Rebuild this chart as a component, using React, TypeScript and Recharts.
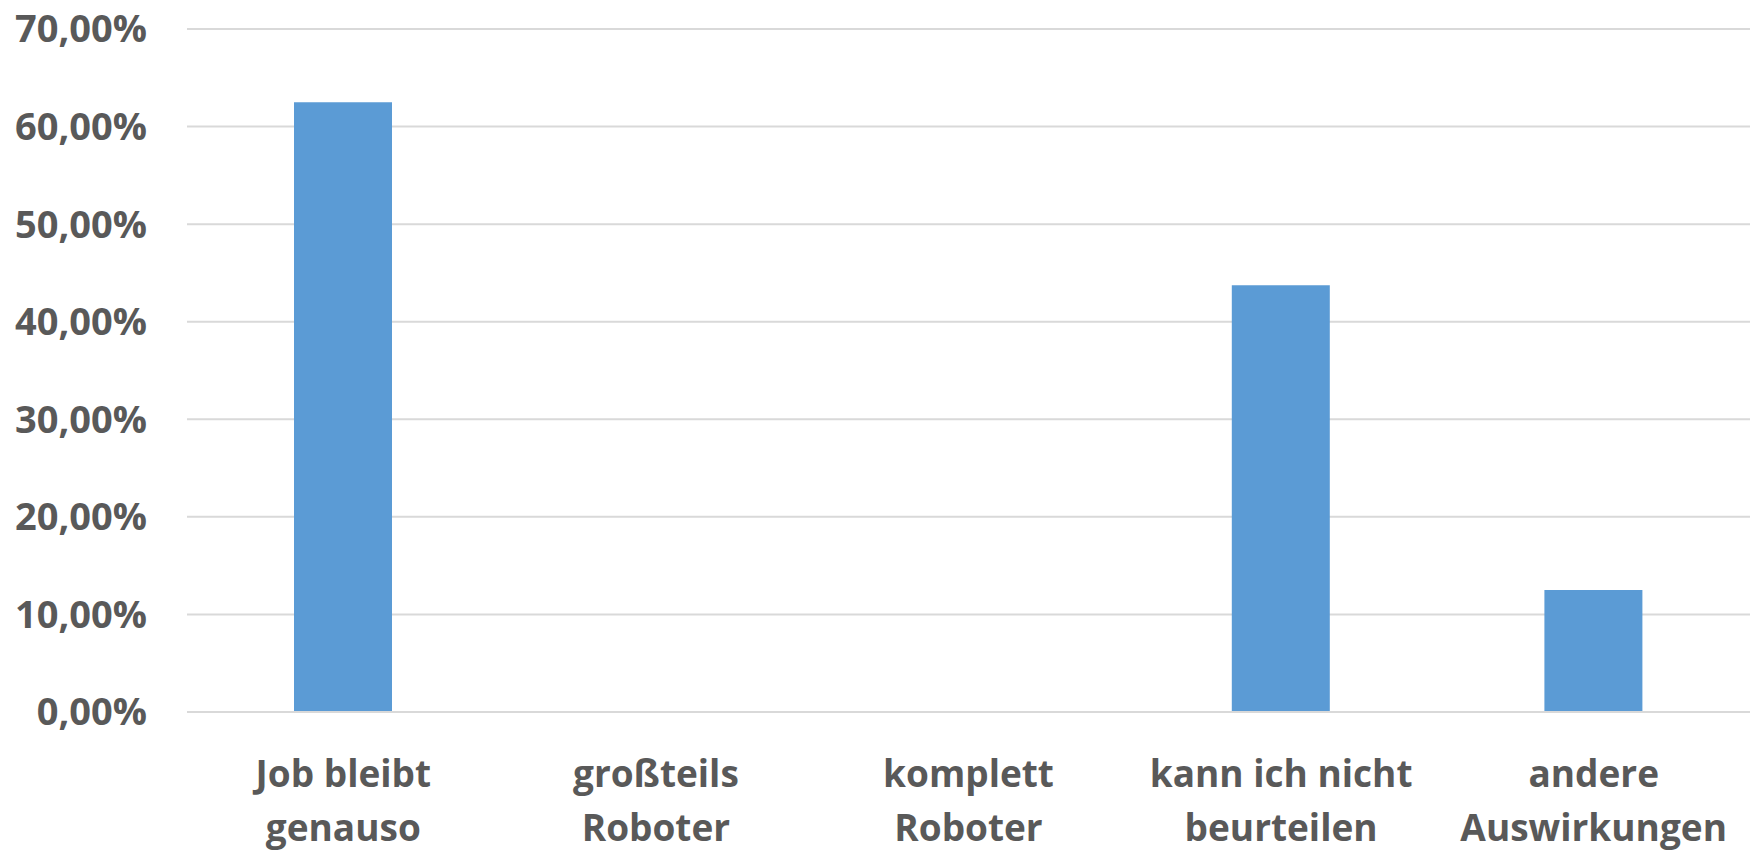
import { Bar, BarChart, CartesianGrid, XAxis, YAxis } from 'recharts'

const categories = [
  'Job bleibt genauso',
  'großteils Roboter',
  'komplett Roboter',
  'kann ich nicht beurteilen',
  'andere Auswirkungen',
]

// Zeilenumbrüche wie im Original
const labelLines = [
  ['Job bleibt', 'genauso'],
  ['großteils', 'Roboter'],
  ['komplett', 'Roboter'],
  ['kann ich nicht', 'beurteilen'],
  ['andere', 'Auswirkungen'],
]

const shares = [0.625, 0, 0, 0.4375, 0.125]

const yTicks = [0, 0.1, 0.2, 0.3, 0.4, 0.5, 0.6, 0.7]

const data = categories.map((name, i) => ({ name, value: shares[i], idx: i }))

const BAR_COLOR = '#5B9BD5'
const GRID_COLOR = '#D9D9D9'
const TEXT_COLOR = '#595959'
const FONT = '"Open Sans", "Noto Sans", sans-serif'

function formatPercent(value: number) {
  return (value * 100).toFixed(2).replace('.', ',') + '%'
}

function CategoryTick(props: any) {
  const { x, y, index } = props
  const lines = labelLines[index] ?? []
  return (
    <text
      x={x}
      y={y + 67}
      textAnchor="middle"
      fill={TEXT_COLOR}
      fontFamily={FONT}
      fontWeight={700}
      fontSize={37}
    >
      {lines.map((line, i) => (
        <tspan key={i} x={x} dy={i === 0 ? 0 : 54}>
          {line}
        </tspan>
      ))}
    </text>
  )
}

export default function App() {
  return (
    <div style={{ position: 'absolute', left: 0, top: 0, background: '#fff' }}>
      <BarChart
        width={1754}
        height={851}
        data={data}
        margin={{ top: 29, right: 4, bottom: 0, left: 0 }}
        barSize={98}
      >
        <CartesianGrid
          vertical={false}
          stroke={GRID_COLOR}
          strokeWidth={2}
        />
        <XAxis
          dataKey="name"
          height={139}
          axisLine={{ stroke: GRID_COLOR, strokeWidth: 2 }}
          tickLine={false}
          interval={0}
          tick={<CategoryTick />}
        />
        <YAxis
          width={187}
          domain={[0, 0.7]}
          ticks={yTicks}
          axisLine={false}
          tickLine={false}
          tickSize={0}
          tickMargin={40}
          tickFormatter={(v) => formatPercent(Number(v))}
          tick={{
            fill: TEXT_COLOR,
            fontSize: 38,
            fontWeight: 700,
            fontFamily: FONT,
          }}
        />
        <Bar dataKey="value" fill={BAR_COLOR} isAnimationActive={false} />
      </BarChart>
    </div>
  )
}
